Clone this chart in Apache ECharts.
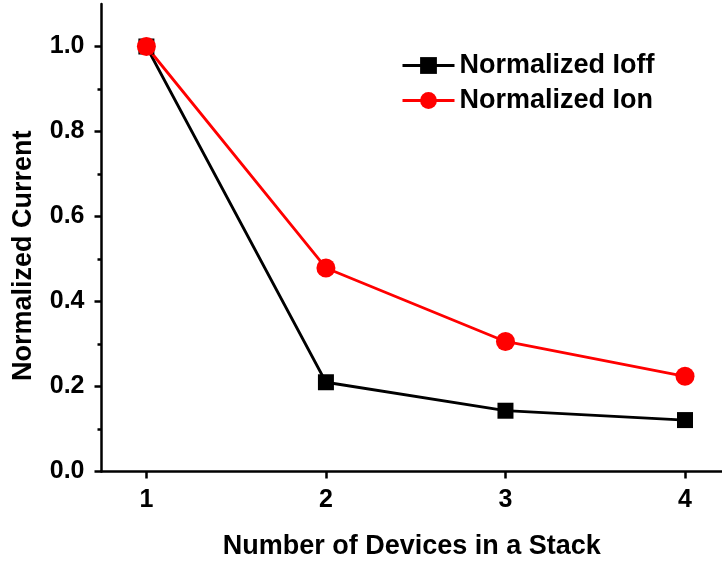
<!DOCTYPE html>
<html>
<head>
<meta charset="utf-8">
<script src="https://cdn.jsdelivr.net/npm/echarts@6/dist/echarts.min.js"></script>
<style>html,body{margin:0;padding:0;background:#fff;}#c{width:722px;height:563px;}</style>
</head>
<body>
<div id="c"></div>
<script>
var devices = [1, 2, 3, 4];
var ioff = [1.0, 0.21, 0.143, 0.121];
var ion = [1.0, 0.479, 0.306, 0.224];
var xTicks = [1, 2, 3, 4];
var yMajor = [0, 0.2, 0.4, 0.6, 0.8, 1.0];
var yMinor = [0.1, 0.3, 0.5, 0.7, 0.9];

var font = 'Liberation Sans, Arial, sans-serif';
var chart = echarts.init(document.getElementById('c'), null, {renderer: 'canvas'});
chart.setOption({
  animation: false,
  backgroundColor: '#fff',
  grid: {left: 101.5, right: 0, top: 4, bottom: 91.5, containLabel: false, outerBoundsMode: 'none'},
  legend: {
    left: 396, top: 47, orient: 'vertical',
    itemWidth: 52, itemHeight: 21, itemGap: 8,
    lineStyle: {width: 3},
    textStyle: {fontFamily: font, fontWeight: 'bold', fontSize: 27, color: '#000'},
    data: ['Normalized Ioff', 'Normalized Ion']
  },
  xAxis: {
    type: 'value', min: 0.75, max: 4.206,
    name: 'Number of Devices in a Stack', nameLocation: 'middle', nameGap: 62,
    nameTextStyle: {fontFamily: font, fontWeight: 'bold', fontSize: 27, color: '#000'},
    axisLine: {show: true, onZero: false, lineStyle: {color: '#000', width: 2.5}},
    axisTick: {show: true, inside: false, length: 7, lineStyle: {color: '#000', width: 2.5}, customValues: xTicks},
    axisLabel: {customValues: xTicks, margin: 16, fontFamily: font, fontWeight: 'bold', fontSize: 25, color: '#000',
      formatter: function (v) { return String(v); }},
    splitLine: {show: false}
  },
  yAxis: [{
    type: 'value', min: 0, max: 1.1,
    name: 'Normalized Current', nameLocation: 'middle', nameGap: 64,
    nameTextStyle: {fontFamily: font, fontWeight: 'bold', fontSize: 27, color: '#000', padding: [0, 36, 0, 0]},
    axisLine: {show: true, onZero: false, lineStyle: {color: '#000', width: 2.5}},
    axisTick: {show: true, inside: false, length: 7, lineStyle: {color: '#000', width: 2.5}, customValues: yMajor},
    axisLabel: {customValues: yMajor, margin: 17, fontFamily: font, fontWeight: 'bold', fontSize: 25, color: '#000',
      formatter: function (v) { return v.toFixed(1); }},
    splitLine: {show: false}
  }, {
    type: 'value', min: 0, max: 1.1, position: 'left', offset: 0,
    axisLine: {show: false},
    axisTick: {show: true, inside: false, length: 4, lineStyle: {color: '#000', width: 2.5}, customValues: yMinor},
    axisLabel: {show: false},
    splitLine: {show: false}
  }],
  series: [{
    name: 'Normalized Ioff', type: 'line',
    data: devices.map(function (d, i) { return [d, ioff[i]]; }),
    symbol: 'rect', symbolSize: 16, showAllSymbol: true,
    itemStyle: {color: '#000'}, lineStyle: {color: '#000', width: 2.8}
  }, {
    name: 'Normalized Ion', type: 'line',
    data: devices.map(function (d, i) { return [d, ion[i]]; }),
    symbol: 'circle', symbolSize: 19, showAllSymbol: true,
    itemStyle: {color: '#ff0000'}, lineStyle: {color: '#ff0000', width: 2.8}
  }]
});
</script>
</body>
</html>
